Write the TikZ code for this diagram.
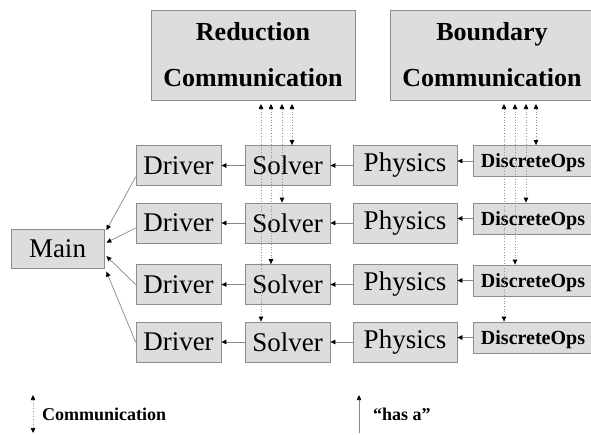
\documentclass[tikz,border=0pt]{standalone}
\usepackage{fontspec}
\setmainfont{Liberation Serif}
\usetikzlibrary{arrows.meta}
\definecolor{boxfill}{RGB}{221,221,221}
\definecolor{boxline}{RGB}{140,140,140}
\definecolor{conn}{RGB}{135,135,135}
\definecolor{dots}{RGB}{150,150,150}
\tikzset{
  blk/.style={draw=boxline, fill=boxfill, line width=0.8pt, inner sep=0pt, anchor=center},
  bigbox/.style={blk, font=\fontsize{27}{30}\selectfont, minimum height=40pt},
  dopsbox/.style={blk, font=\bfseries\fontsize{20}{22}\selectfont, minimum width=120pt, minimum height=31pt, text depth=0pt},
  commbox/.style={blk, align=center, font=\bfseries\fontsize{26}{46}\selectfont, minimum width=204pt, minimum height=90pt},
  tipb/.tip={Triangle[length=5pt,width=4.5pt,color=black]},
  hasaline/.style={draw=conn, line width=0.7pt, -tipb},
  commline/.style={draw=dots, line width=0.7pt, dotted, tipb-tipb},
  lgdtext/.style={font=\bfseries\fontsize{18}{20}\selectfont, anchor=west, inner sep=0pt}
}
\begin{document}
\begin{tikzpicture}[x=1pt,y=-1pt]
\useasboundingbox (0,0) rectangle (591,434);
\fill[white] (0,0) rectangle (591,434);
% communication boxes
\node[commbox] (red) at (253,55) {Reduction\\Communication};
\node[commbox] (bnd) at (492,55) {Boundary\\Communication};
% main
\node[bigbox, minimum width=93pt, minimum height=39pt] (main) at (57.5,248.5) {Main};
% rows
\foreach \i/\y/\dy in {1/165.5/161, 2/223/218.5, 3/284.5/280.5, 4/342/337.5}{
  \node[bigbox, minimum width=85pt] (drv\i) at (178.5,\y) {Driver};
  \node[bigbox, minimum width=85pt] (sol\i) at (287.5,\y) {Solver};
  \node[bigbox, minimum width=104pt] (phy\i) at (405,\y) {Physics};
  \node[dopsbox] (dop\i) at (533,\dy) {DiscreteOps};
  \draw[hasaline] (sol\i.west) -- (drv\i.east);
  \draw[hasaline] (phy\i.west) -- (sol\i.east);
  \draw[hasaline] (dop\i.west) -- (dop\i.west -| phy\i.east);
}
% driver -> main
\draw[hasaline] ([yshift=-11.5pt]drv1.west) -- ([xshift=2pt,yshift=-1.5pt]main.north east);
\draw[hasaline] ([yshift=-5pt]drv2.west) -- ([xshift=2pt,yshift=-14pt]main.north east);
\draw[hasaline] (drv3.west) -- ([xshift=2pt,yshift=-27.5pt]main.north east);
\draw[hasaline] (drv4.west) -- ([xshift=2pt,yshift=-43pt]main.north east);
% reduction communication
\coordinate (ra1) at (292,104);
\coordinate (ra2) at (282,104);
\coordinate (ra3) at (271,104);
\coordinate (ra4) at (261,104);
\draw[commline] (ra1) -- (ra1 |- sol1.north);
\draw[commline] (ra2) -- (ra2 |- sol2.north);
\draw[commline] (ra3) -- (ra3 |- sol3.north);
\draw[commline] (ra4) -- (ra4 |- sol4.north);
% boundary communication
\coordinate (ba1) at (536,104);
\coordinate (ba2) at (526,104);
\coordinate (ba3) at (515,104);
\coordinate (ba4) at (504,104);
\draw[commline] (ba1) -- (ba1 |- dop1.north);
\draw[commline] (ba2) -- (ba2 |- dop2.north);
\draw[commline] (ba3) -- (ba3 |- dop3.north);
\draw[commline] (ba4) -- (ba4 |- dop4.north);
% legend
\coordinate (l1a) at (33,395);
\coordinate (l1b) at (33,433);
\draw[commline] (l1a) -- (l1b);
\node[lgdtext] (lt1) at (42,414) {Communication};
\coordinate (l2a) at (359,433);
\coordinate (l2b) at (359,395);
\draw[hasaline] (l2a) -- (l2b);
\node[lgdtext] (lt2) at (373,414) {“has a”};
\end{tikzpicture}
\end{document}
